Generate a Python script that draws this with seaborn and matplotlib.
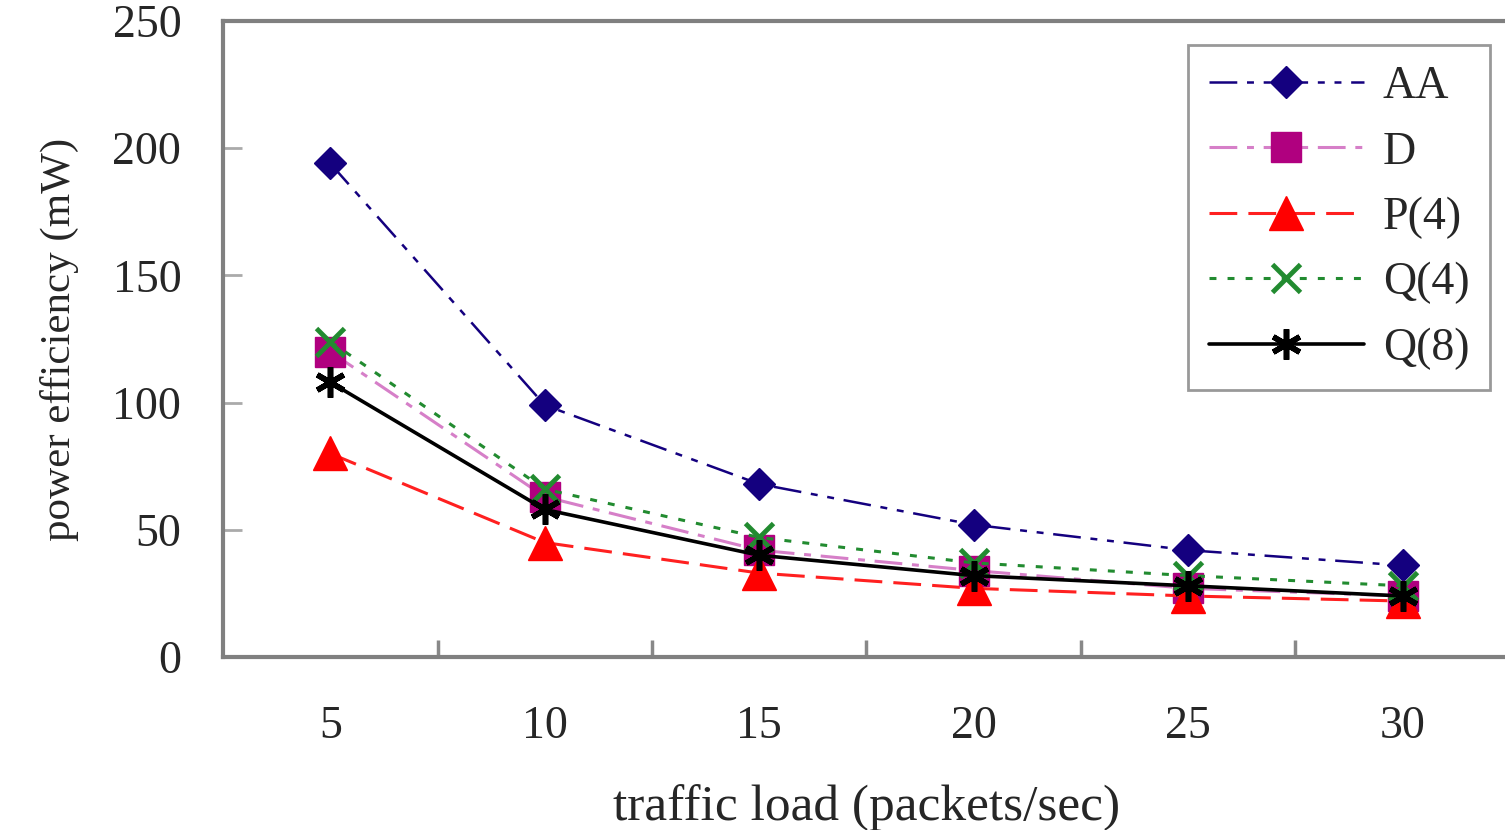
import pandas as pd
import seaborn as sns
import matplotlib.pyplot as plt

# data
loads = ['5', '10', '15', '20', '25', '30']
aa = [194, 99, 68, 52, 42, 36]
d = [120, 63, 42, 34, 27, 24]
p4 = [80, 45, 33, 27, 24, 22]
q4 = [124, 66, 47, 37, 32, 28]
q8 = [108, 58, 40, 32, 28, 24]

series = {'AA': aa, 'D': d, 'P(4)': p4, 'Q(4)': q4, 'Q(8)': q8}

styles = {
    'AA': dict(color='#14007f', lw=1.8, ls=(0, (20, 7, 5, 7, 5, 7)), marker='D', ms=16,
               mfc='#14007f', mec='#14007f', mew=1),
    'D': dict(color='#d67fc8', lw=2.2, ls=(0, (20, 7, 5, 7)), marker='s', ms=21,
              mfc='#b0007f', mec='#b0007f', mew=1),
    'P(4)': dict(color='#ff2020', lw=2.2, ls=(0, (20, 8)), marker='^', ms=24,
                 mfc='#ff0000', mec='#ff0000', mew=1),
    'Q(4)': dict(color='#228b30', lw=2.2, ls=(0, (5, 8)), marker='x', ms=20,
                 mfc='#228b30', mec='#228b30', mew=3.5),
    'Q(8)': dict(color='#000000', lw=2.6, ls='-', marker=(6, 2, 0), ms=22,
                 mfc='#000000', mec='#000000', mew=4),
}

rows = []
for name, vals in series.items():
    for x, v in zip(loads, vals):
        rows.append({'load': x, 'eff': v, 'alg': name})
df = pd.DataFrame(rows)

sns.set_style('white')
plt.rcParams['font.family'] = ['Liberation Serif', 'DejaVu Serif']
plt.rcParams['lines.scale_dashes'] = False

fig = plt.figure(figsize=(15.05, 8.3), dpi=100)
ax = fig.add_axes([0.1482, 0.2084, 0.855, 0.7663])

for name in series:
    st = styles[name]
    sub = df[df['alg'] == name]
    sns.lineplot(data=sub, x='load', y='eff', ax=ax, label=name, color=st['color'],
                 linewidth=st['lw'], linestyle=st['ls'], marker=st['marker'],
                 markersize=st['ms'], markerfacecolor=st['mfc'],
                 markeredgecolor=st['mec'], markeredgewidth=st['mew'])

ax.set_xlim(-0.5, 5.5)
ax.set_ylim(0, 250)
ax.set_yticks([0, 50, 100, 150, 200, 250])
ax.set_xticks(range(len(loads)))
ax.set_xticklabels(loads)
ax.set_xticks([0.5, 1.5, 2.5, 3.5, 4.5], minor=True)

ax.tick_params(axis='x', which='major', length=0, pad=35, labelsize=33)
ax.tick_params(axis='x', which='minor', direction='in', length=12, width=2.5,
               color='#888888', bottom=True)
ax.tick_params(axis='y', direction='in', length=14, width=2, color='#aaaaaa',
               pad=30, labelsize=33, left=True)

for side in ['left', 'top', 'bottom']:
    ax.spines[side].set_color('#808080')
    ax.spines[side].set_linewidth(3)
ax.spines['right'].set_visible(False)

ax.set_xlabel('traffic load (packets/sec)', fontsize=37, labelpad=26)
ax.set_ylabel('power efficiency (mW)', fontsize=31, labelpad=24)

leg = ax.legend(loc='upper right', bbox_to_anchor=(0.990, 0.9458),
                bbox_transform=fig.transFigure, fontsize=33, frameon=True,
                fancybox=False, framealpha=1, edgecolor='#999999',
                handlelength=3.4, labelspacing=0.5, borderaxespad=0,
                handletextpad=0.4, borderpad=0.45)
leg.get_frame().set_linewidth(2)

fig.savefig('out.png', dpi=100)
